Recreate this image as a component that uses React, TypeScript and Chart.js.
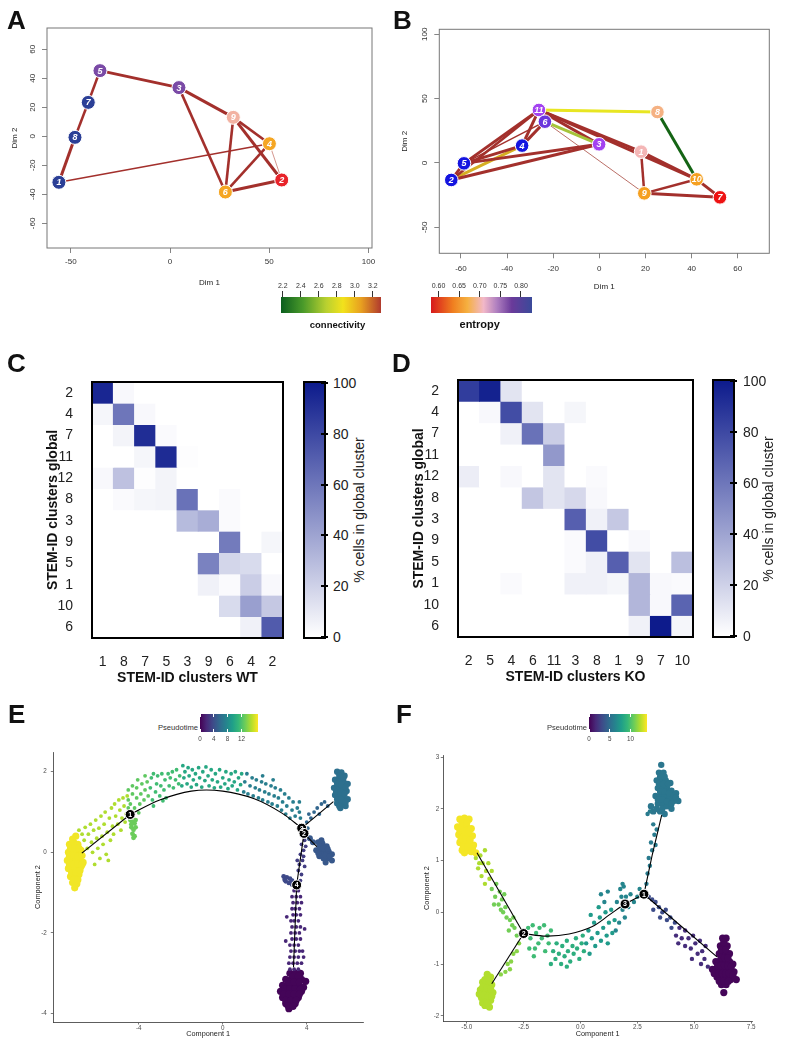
import React, { useEffect, useRef } from "react";
import { Chart, registerables } from "chart.js";
Chart.register(...registerables);

const SANS = "'Liberation Sans', Arial, Helvetica, sans-serif";

// ================= Panel A (STEM-ID network WT) =================
const nodeLabelsA = ["1", "8", "7", "5", "3", "9", "4", "2", "6"];
const nodeXA = [-56.0, -47.9, -41.2, -35.3, 4.5, 31.9, 50.1, 56.3, 27.9];
const nodeYA = [-31.7, -0.7, 23.4, 45.3, 33.6, 13.1, -5.1, -30.1, -38.4];
const nodeColorA = ["#2b3f96", "#2b3f96", "#2b3f96", "#7a4aa6", "#7a4aa6", "#f2b2a2", "#f5a623", "#e8232a", "#f5a623"];
const edgesA = [["1", "8"], ["8", "7"], ["7", "5"], ["5", "3"], ["3", "9"], ["3", "6"], ["9", "6"], ["9", "4"], ["9", "2"], ["4", "6"], ["6", "2"], ["1", "4"], ["4", "2"]];
const edgeWidthA = [3, 2.6, 2.6, 3, 3, 2.6, 2.6, 2.6, 3, 2.6, 3, 1.6, 0.7];
const edgeColorA = ["#a3302c", "#a3302c", "#a3302c", "#a3302c", "#a3302c", "#a3302c", "#a3302c", "#a3302c", "#a3302c", "#a3302c", "#a3302c", "#a3302c", "#c26a5e"];
const xTicksA = [-50, 0, 50, 100];
const yTicksA = [-60, -40, -20, 0, 20, 40, 60];

// ================= Panel B (STEM-ID network KO) =================
const nodeLabelsB = ["11", "6", "4", "5", "2", "3", "1", "8", "10", "9", "7"];
const nodeXB = [-26.2, -23.6, -33.5, -58.7, -64.2, -0.1, 18.1, 25.2, 42.2, 19.5, 52.3];
const nodeYB = [41.2, 32.1, 13.5, -0.3, -13.2, 14.5, 8.8, 39.6, -12.7, -23.6, -26.7];
const nodeColorB = ["#a342f0", "#6b36dc", "#1414e0", "#1414e0", "#1414e0", "#a342f0", "#f4b6b6", "#f5b182", "#f5a020", "#f5a020", "#ee1212"];
const edgesB = [["11", "8"], ["8", "10"], ["11", "5"], ["11", "2"], ["11", "4"], ["6", "4"], ["6", "5"], ["4", "5"], ["5", "3"], ["2", "3"], ["2", "5"], ["2", "4"], ["6", "3"], ["11", "3"], ["11", "1"], ["11", "10"], ["1", "10"], ["1", "9"], ["9", "10"], ["9", "7"], ["10", "7"], ["6", "9"]];
const edgeWidthB = [3, 3, 3, 2.6, 3, 3, 1.4, 3, 3, 3, 3, 3, 3, 3, 3, 3, 3, 2.5, 2.5, 3, 3, 0.8];
const edgeColorB = ["#e8e622", "#146414", "#a3302c", "#a3302c", "#a3302c", "#a3302c", "#a3302c", "#a3302c", "#a3302c", "#a3302c", "#a3302c", "#d6ae22", "#a6c43a", "#a3302c", "#a3302c", "#a3302c", "#a3302c", "#a3302c", "#a3302c", "#a3302c", "#a3302c", "#a84a40"];
const xTicksB = [-60, -40, -20, 0, 20, 40, 60];
const yTicksB = [-50, 0, 50, 100];

// colour keys under A / B
const connTicks = [2.2, 2.4, 2.6, 2.8, 3.0, 3.2];
const entropyTicks = [0.6, 0.65, 0.7, 0.75, 0.8];

// ================= Panels C / D (heatmaps) =================
const rowsGlobal = ["2", "4", "7", "11", "12", "8", "3", "9", "5", "1", "10", "6"];
const colsWT = ["1", "8", "7", "5", "3", "9", "6", "4", "2"];
const heatWT = [
  [95, 3, 0, 0, 0, 0, 0, 0, 0],
  [4, 60, 3, 0, 0, 0, 0, 0, 0],
  [0, 5, 92, 2, 0, 0, 0, 0, 0],
  [0, 0, 4, 93, 1, 0, 0, 0, 0],
  [3, 27, 1, 5, 0, 0, 0, 0, 0],
  [0, 2, 4, 5, 62, 0, 2, 0, 0],
  [0, 0, 0, 0, 30, 36, 2, 0, 0],
  [0, 0, 0, 0, 0, 0, 58, 0, 4],
  [0, 0, 0, 0, 0, 55, 18, 16, 0],
  [0, 0, 0, 0, 0, 6, 2, 22, 3],
  [0, 0, 0, 0, 0, 0, 16, 42, 24],
  [0, 0, 0, 0, 0, 0, 0, 6, 72],
];
const colsKO = ["2", "5", "4", "6", "11", "3", "8", "1", "9", "7", "10"];
const heatKO = [
  [85, 97, 12, 0, 0, 0, 0, 0, 0, 0, 0],
  [0, 3, 78, 12, 0, 4, 0, 0, 0, 0, 0],
  [0, 0, 6, 62, 22, 0, 0, 0, 0, 0, 0],
  [0, 0, 0, 0, 45, 0, 0, 0, 0, 0, 0],
  [8, 0, 3, 0, 12, 0, 2, 0, 0, 0, 0],
  [0, 0, 0, 25, 12, 17, 3, 0, 0, 0, 0],
  [0, 0, 0, 0, 0, 70, 6, 24, 0, 0, 0],
  [0, 0, 0, 0, 0, 2, 78, 0, 3, 0, 0],
  [0, 0, 0, 0, 0, 2, 6, 70, 12, 0, 28],
  [0, 0, 2, 0, 0, 6, 6, 4, 32, 3, 2],
  [0, 0, 0, 0, 0, 0, 0, 0, 32, 3, 68],
  [0, 0, 0, 0, 0, 0, 0, 0, 6, 100, 4],
];
const heatTicks = [0, 20, 40, 60, 80, 100];

// ================= Panel E (pseudotime WT) =================
const eYellowBlob = [[-7.3, 0.2], [-7.1, 0.25], [-6.9, 0.2], [-7.0, 0.4], [-7.35, 0.0], [-7.15, 0.05], [-6.95, 0.0], [-6.75, 0.05], [-7.4, -0.2], [-7.2, -0.15], [-7.0, -0.2], [-6.8, -0.15], [-6.65, -0.25], [-7.35, -0.4], [-7.15, -0.4], [-6.95, -0.4], [-6.75, -0.35], [-7.25, -0.6], [-7.05, -0.6], [-6.85, -0.55], [-7.15, -0.75], [-6.95, -0.78], [-7.05, -0.88], [-7.25, 0.1], [-7.05, 0.12], [-6.85, 0.1], [-7.3, -0.1], [-7.1, -0.08], [-6.9, -0.1], [-6.7, -0.08], [-7.3, -0.3], [-7.1, -0.3], [-6.9, -0.28], [-6.7, -0.3], [-7.2, -0.5], [-7.0, -0.5], [-6.8, -0.45], [-7.1, -0.68], [-6.9, -0.68], [-7.15, 0.33]];
const eLeftArm = [[-6.85, 0.55], [-6.7, 0.45], [-6.6, 0.3], [-6.55, 0.62], [-6.45, 0.1], [-6.4, 0.45], [-6.3, 0.7], [-6.25, 0.25], [-6.2, 0.0], [-6.15, 0.55], [-6.05, 0.8], [-6.0, 0.35], [-5.95, 0.1], [-5.9, 0.6], [-5.85, -0.15], [-5.8, 0.9], [-5.75, 0.4], [-5.7, 0.2], [-5.65, 0.7], [-5.6, 1.0], [-5.5, 0.5], [-5.45, -0.2], [-5.4, 0.85], [-5.35, 0.3], [-5.3, 1.1], [-5.25, 0.65], [-5.2, 0.45], [-5.15, 1.2], [-5.1, 0.9], [-5.0, 0.7], [-4.95, 1.3], [-4.9, 1.05], [-4.85, 0.55], [-4.8, 0.85], [-4.75, 1.35], [-4.7, 1.15], [-4.65, 0.75], [-4.6, 0.95], [-4.55, 1.4], [-5.55, -0.05], [-6.1, -0.3]];
const eGreenBlob = [[-4.4, 0.8], [-4.3, 0.75], [-4.2, 0.72], [-4.35, 0.62], [-4.25, 0.56], [-4.15, 0.62], [-4.3, 0.46], [-4.2, 0.4], [-4.35, 0.7], [-4.15, 0.8], [-4.25, 0.36]];
const eArc1 = [[-4.5, 1.1], [-4.5, 1.3], [-4.5, 1.55], [-4.4, 1.2], [-4.3, 1.45], [-4.3, 1.65], [-4.2, 1.1], [-4.1, 1.35], [-4.1, 1.6], [-4.05, 1.8], [-3.95, 1.2], [-3.9, 1.45], [-3.85, 1.7], [-3.75, 1.3], [-3.7, 1.55], [-3.7, 1.9], [-3.6, 1.75], [-3.55, 1.4], [-4.0, 0.98]];
const eArc1b = [[-3.45, 1.6], [-3.4, 1.85], [-3.35, 1.3], [-3.3, 1.95], [-3.2, 1.5], [-3.15, 1.7], [-3.1, 1.9], [-3.0, 1.4], [-2.95, 1.65], [-2.9, 1.95], [-2.8, 1.55], [-2.75, 1.8], [-2.7, 1.35], [-2.6, 1.95], [-2.55, 1.65], [-2.5, 1.85], [-2.4, 2.0], [-2.35, 1.6], [-2.25, 1.8], [-2.2, 2.05], [-2.1, 1.7], [-2.05, 1.9], [-3.3, 1.15], [-2.85, 1.28]];
const eArc2 = [[-1.95, 1.65], [-1.9, 2.15], [-1.85, 1.85], [-1.8, 2.0], [-1.7, 1.7], [-1.65, 2.1], [-1.6, 1.9], [-1.5, 1.62], [-1.45, 2.05], [-1.4, 1.8], [-1.3, 1.95], [-1.25, 1.68], [-1.15, 2.1], [-1.1, 1.85], [-1.0, 1.62], [-0.95, 2.0], [-0.85, 1.78], [-0.8, 2.12], [-0.7, 1.9], [-0.65, 1.65], [-0.55, 2.05], [-0.5, 1.8], [-0.4, 1.6], [-0.35, 1.95], [-0.25, 1.75], [-0.15, 2.05], [-0.1, 1.62], [0.0, 1.85], [0.1, 1.7], [0.15, 2.0], [0.25, 1.58], [0.3, 1.8], [0.4, 1.95], [0.45, 1.65], [0.55, 1.75], [0.6, 2.0], [0.7, 1.55], [0.75, 1.85], [0.85, 1.68], [0.9, 1.95]];
const eArc3 = [[1.0, 1.5], [1.05, 1.75], [1.15, 1.95], [1.2, 1.45], [1.3, 1.65], [1.4, 1.85], [1.45, 1.4], [1.55, 1.6], [1.6, 1.8], [1.7, 1.35], [1.75, 1.55], [1.85, 1.75], [1.9, 1.3], [2.0, 1.5], [2.05, 1.7], [2.15, 1.25], [2.2, 1.45], [2.3, 1.65], [2.35, 1.2], [2.45, 1.4], [2.5, 1.6], [2.6, 1.15], [2.65, 1.35], [2.75, 1.55], [2.8, 1.05], [2.85, 1.25], [2.95, 1.45], [3.0, 0.95], [3.05, 1.15], [3.15, 1.35], [3.2, 0.85], [3.3, 1.05], [3.35, 1.25], [3.45, 0.9], [3.55, 1.1], [3.65, 1.0], [3.65, 1.25], [3.7, 0.85], [2.4, 1.8], [1.9, 1.9]];
const eToTopRight = [[4.0, 0.75], [4.1, 0.95], [4.2, 0.85], [4.35, 1.0], [4.5, 1.1], [4.6, 0.95], [4.7, 1.2], [4.85, 1.25], [5.0, 1.15], [4.05, 0.6]];
const eTopRightBlob = [[5.45, 2.0], [5.65, 1.98], [5.8, 1.9], [5.35, 1.8], [5.55, 1.8], [5.75, 1.75], [5.95, 1.7], [5.3, 1.6], [5.5, 1.6], [5.7, 1.58], [5.9, 1.52], [5.35, 1.42], [5.55, 1.4], [5.75, 1.38], [5.95, 1.32], [5.45, 1.22], [5.65, 1.2], [5.85, 1.15], [5.6, 1.1], [5.55, 1.9], [5.75, 1.85], [5.45, 1.7], [5.65, 1.68], [5.85, 1.62], [5.4, 1.5], [5.6, 1.5], [5.8, 1.45], [5.45, 1.32], [5.65, 1.3], [5.85, 1.25], [5.55, 1.15]];
const eRightBlob = [[4.55, 0.25], [4.75, 0.22], [4.95, 0.15], [4.45, 0.05], [4.65, 0.05], [4.85, 0.0], [5.05, 0.02], [5.2, -0.05], [4.6, -0.1], [4.8, -0.15], [5.0, -0.15], [5.2, -0.2], [4.9, -0.25], [4.7, 0.3], [4.15, 0.35], [4.3, 0.25], [4.6, 0.15], [4.8, 0.1], [5.0, 0.08], [4.7, -0.05], [4.9, -0.08], [5.1, -0.1], [4.55, -0.02]];
const eStripUpper = [[3.9, 0.3], [3.75, 0.2], [3.85, 0.05], [3.7, -0.05], [3.8, -0.2], [3.65, -0.3], [3.9, -0.35], [3.6, -0.45], [3.75, -0.55], [3.7, -0.7], [3.85, -0.1], [3.95, 0.15], [3.8, 0.4], [3.55, -0.2]];
const eSmallBlob = [[2.9, -0.6], [3.05, -0.62], [3.2, -0.65], [3.3, -0.7], [3.0, -0.72], [3.15, -0.76], [3.3, -0.8], [2.95, -0.68]];
const eStripMid = [[3.4, -0.95], [3.6, -0.95], [3.3, -1.1], [3.5, -1.1], [3.7, -1.1], [3.35, -1.25], [3.55, -1.25], [3.75, -1.25], [3.3, -1.4], [3.45, -1.4], [3.65, -1.4], [3.35, -1.55], [3.5, -1.55], [3.7, -1.55], [3.25, -1.7], [3.4, -1.7], [3.6, -1.7], [3.3, -1.85], [3.5, -1.85], [3.7, -1.85], [3.25, -2.0], [3.45, -2.0], [3.65, -2.0], [3.3, -2.15], [3.5, -2.15], [3.7, -2.15], [3.2, -2.3], [3.4, -2.3], [3.6, -2.3], [3.25, -2.45], [3.45, -2.45], [3.65, -2.45], [3.8, -2.45], [3.2, -2.6], [3.4, -2.6], [3.6, -2.6], [3.15, -2.75], [3.35, -2.75], [3.55, -2.75], [3.75, -2.75], [3.2, -2.9], [3.4, -2.9], [3.6, -2.9], [3.0, -2.2], [3.05, -1.6], [3.9, -1.9], [3.85, -2.6]];
const eBottomBlob = [[3.2, -3.0], [3.45, -3.0], [3.7, -3.0], [3.0, -3.15], [3.25, -3.15], [3.5, -3.15], [3.75, -3.15], [3.95, -3.2], [2.85, -3.3], [3.1, -3.3], [3.35, -3.3], [3.6, -3.3], [3.85, -3.35], [2.75, -3.45], [3.0, -3.45], [3.25, -3.45], [3.5, -3.45], [3.75, -3.45], [2.85, -3.6], [3.1, -3.6], [3.35, -3.6], [3.6, -3.6], [3.0, -3.75], [3.25, -3.75], [3.45, -3.75], [3.15, -3.88], [3.35, -3.08], [3.6, -3.08], [3.15, -3.22], [3.4, -3.22], [3.65, -3.22], [2.95, -3.38], [3.2, -3.38], [3.45, -3.38], [3.7, -3.4], [2.9, -3.52], [3.15, -3.52], [3.4, -3.52], [3.65, -3.52], [3.0, -3.67], [3.25, -3.67], [3.5, -3.67], [3.1, -3.8], [3.35, -3.82]];
const pathE1 = [[-6.71, -0.02], [-4.41, 0.94]];
const pathE2 = [[-4.41, 0.94], [-3.0, 1.3], [-1.5, 1.52], [0.0, 1.52], [1.5, 1.33], [2.8, 0.98], [3.76, 0.6]];
const pathE3 = [[3.76, 0.6], [5.27, 1.26]];
const pathE4 = [[3.87, 0.47], [4.48, 0.14]];
const pathE5 = [[3.87, 0.47], [3.52, -0.81], [3.37, -2.85]];
const branchLabelsE = ["1", "3", "2", "4"];
const branchXE = [-4.41, 3.76, 3.87, 3.52];
const branchYE = [0.94, 0.6, 0.47, -0.81];
const xTicksE = [-4, 0, 4];
const yTicksE = [-4, -2, 0, 2];
const legendTicksE = [0, 4, 8, 12];

// ================= Panel F (pseudotime KO) =================
const fYellowBlob = [[-5.3, 1.8], [-5.1, 1.82], [-4.9, 1.8], [-5.4, 1.65], [-5.2, 1.65], [-5.0, 1.65], [-4.8, 1.62], [-5.35, 1.5], [-5.15, 1.5], [-4.95, 1.5], [-4.75, 1.48], [-5.3, 1.35], [-5.1, 1.35], [-4.9, 1.33], [-4.7, 1.3], [-5.2, 1.2], [-5.0, 1.2], [-4.8, 1.17], [-4.6, 1.15], [-5.2, 1.73], [-5.0, 1.73], [-5.3, 1.58], [-5.1, 1.58], [-4.9, 1.56], [-5.25, 1.42], [-5.05, 1.42], [-4.85, 1.4], [-5.15, 1.27], [-4.95, 1.27], [-4.75, 1.23], [-5.1, 1.15]];
const fLeftArmUpper = [[-4.6, 1.05], [-4.4, 1.1], [-4.3, 0.95], [-4.5, 0.85], [-4.2, 1.2], [-4.15, 0.8], [-4.35, 0.7], [-4.05, 0.95], [-4.0, 0.65], [-4.2, 0.55], [-3.9, 0.8], [-4.45, 0.95]];
const fLeftArmLower = [[-3.9, 0.45], [-3.7, 0.55], [-3.75, 0.3], [-3.55, 0.4], [-3.6, 0.15], [-3.45, 0.25], [-3.4, 0.0], [-3.3, 0.1], [-3.25, -0.1], [-3.5, 0.05], [-3.1, -0.15], [-3.0, -0.25], [-2.9, -0.3], [-3.15, -0.35], [-2.8, -0.45], [-3.8, 0.15], [-3.35, 0.35], [-2.95, -0.1]];
const fBottomLeftArm = [[-2.7, -0.6], [-2.8, -0.75], [-2.95, -0.8], [-3.05, -0.95], [-3.2, -1.0], [-3.3, -1.15], [-3.1, -1.1], [-3.5, -1.2]];
const fBottomLeftBlob = [[-4.1, -1.2], [-3.95, -1.25], [-4.3, -1.35], [-4.1, -1.38], [-3.9, -1.4], [-4.4, -1.5], [-4.2, -1.52], [-4.0, -1.55], [-3.85, -1.55], [-4.35, -1.65], [-4.15, -1.68], [-3.95, -1.7], [-4.2, -1.8], [-4.0, -1.83], [-4.45, -1.58], [-4.2, -1.3], [-4.0, -1.32], [-4.3, -1.45], [-4.1, -1.46], [-3.95, -1.48], [-4.25, -1.6], [-4.05, -1.62], [-4.3, -1.75], [-4.1, -1.75], [-3.9, -1.62]];
const fMid1 = [[-2.3, -0.3], [-2.2, -0.5], [-2.1, -0.25], [-2.0, -0.7], [-1.95, -0.4], [-1.85, -0.6], [-1.8, -0.3], [-1.7, -0.5], [-1.6, -0.25], [-1.55, -0.75], [-1.45, -0.45], [-1.4, -0.6], [-1.3, -0.35], [-2.25, -0.7], [-2.05, -0.85]];
const fMid2 = [[-1.2, -0.75], [-1.1, -0.9], [-1.05, -0.6], [-0.95, -0.8], [-0.85, -1.0], [-0.8, -0.65], [-0.7, -0.85], [-0.6, -0.55], [-0.55, -0.75], [-0.45, -0.95], [-0.35, -0.65], [-0.3, -0.8], [-0.2, -0.5], [-0.15, -0.7], [-0.05, -0.9], [0.05, -0.6], [0.15, -0.75], [-1.3, -1.0], [-0.6, -1.05], [0.1, -0.45]];
const fMid3 = [[0.25, -0.6], [0.35, -0.35], [0.4, -0.8], [0.5, -0.5], [0.6, -0.2], [0.65, -0.65], [0.75, -0.4], [0.85, -0.1], [0.9, -0.55], [1.0, -0.3], [1.1, 0.0], [1.15, -0.45], [1.25, -0.2], [1.35, 0.05], [1.4, -0.4], [1.5, -0.15], [0.45, -0.05], [1.2, -0.6], [0.8, 0.1]];
const fMid4 = [[0.9, 0.35], [1.05, 0.2], [1.2, 0.4], [1.6, 0.2], [1.75, 0.45], [1.8, 0.3], [1.85, 0.05], [1.9, 0.5], [2.0, 0.3], [2.1, 0.1], [2.2, 0.35], [2.35, 0.2], [2.5, 0.3], [1.95, -0.1], [1.7, -0.2], [1.55, -0.35], [2.6, 0.45], [1.85, 0.55]];
const fTopArm = [[2.9, 0.55], [2.95, 0.75], [3.05, 0.9], [3.0, 1.05], [3.15, 1.2], [3.1, 1.35], [3.25, 1.5], [3.2, 1.7], [3.35, 1.6], [2.95, 1.9], [3.05, 1.95], [3.3, 1.3]];
const fTopBlob = [[3.55, 2.85], [3.45, 2.7], [3.65, 2.7], [3.35, 2.55], [3.55, 2.55], [3.75, 2.55], [3.95, 2.5], [3.4, 2.4], [3.6, 2.4], [3.8, 2.4], [4.0, 2.35], [4.2, 2.3], [3.3, 2.25], [3.5, 2.25], [3.7, 2.25], [3.9, 2.2], [4.1, 2.15], [4.3, 2.15], [3.4, 2.1], [3.6, 2.1], [3.8, 2.05], [4.0, 2.0], [3.2, 1.95], [3.5, 1.95], [3.7, 1.9], [3.1, 2.05], [3.5, 2.62], [3.7, 2.62], [3.45, 2.48], [3.65, 2.48], [3.85, 2.48], [3.5, 2.33], [3.7, 2.33], [3.9, 2.3], [4.1, 2.25], [3.4, 2.18], [3.6, 2.18], [3.8, 2.14], [4.0, 2.1], [4.2, 2.22], [3.6, 2.0], [3.35, 2.0]];
const fRightArmUpper = [[3.0, 0.3], [3.15, 0.25], [3.3, 0.2], [3.2, 0.05], [3.45, 0.1], [3.6, 0.0], [3.5, -0.1], [3.75, 0.05], [3.8, -0.15], [3.95, -0.1], [4.0, -0.3], [4.15, -0.2]];
const fRightArmLower = [[4.2, -0.45], [4.35, -0.3], [4.45, -0.5], [4.6, -0.35], [4.6, -0.65], [4.75, -0.5], [4.85, -0.7], [4.95, -0.45], [5.05, -0.6], [5.15, -0.8], [5.25, -0.55], [5.35, -0.75], [5.45, -0.9], [5.5, -0.65], [4.3, -0.6], [4.9, -0.9], [5.6, -1.05], [5.3, -1.0]];
const fRightBlob = [[6.25, -0.5], [6.4, -0.5], [6.15, -0.65], [6.3, -0.65], [6.45, -0.65], [6.1, -0.8], [6.25, -0.8], [6.4, -0.8], [6.55, -0.8], [5.95, -0.95], [6.1, -0.95], [6.25, -0.95], [6.4, -0.95], [6.55, -0.95], [6.7, -1.0], [5.8, -1.1], [5.95, -1.1], [6.1, -1.1], [6.25, -1.1], [6.4, -1.1], [6.55, -1.1], [6.75, -1.15], [6.0, -1.25], [6.15, -1.25], [6.3, -1.25], [6.45, -1.25], [6.6, -1.3], [6.85, -1.3], [6.2, -1.4], [6.4, -1.4], [6.3, -1.55], [6.3, -0.58], [6.2, -0.72], [6.38, -0.72], [6.18, -0.88], [6.33, -0.88], [6.48, -0.88], [6.03, -1.03], [6.18, -1.03], [6.33, -1.03], [6.48, -1.03], [6.63, -1.05], [5.88, -1.18], [6.08, -1.18], [6.23, -1.18], [6.38, -1.18], [6.53, -1.18], [6.7, -1.22], [6.1, -1.33], [6.3, -1.33], [6.5, -1.33]];
const pathF1 = [[-4.55, 1.15], [-2.5, -0.41]];
const pathF2 = [[-2.5, -0.41], [-3.9, -1.38]];
const pathF3 = [[-2.5, -0.41], [-1.5, -0.46], [-0.5, -0.42], [0.5, -0.28], [1.3, -0.04], [1.96, 0.16], [2.79, 0.35]];
const pathF4 = [[2.79, 0.35], [3.15, 1.1], [3.57, 1.88]];
const pathF5 = [[2.79, 0.35], [4.3, -0.22], [6.0, -0.86]];
const branchLabelsF = ["2", "3", "1"];
const branchXF = [-2.5, 1.96, 2.79];
const branchYF = [-0.41, 0.16, 0.35];
const xTicksF = [-5, -2.5, 0, 2.5, 5, 7.5];
const yTicksF = [-2, -1, 0, 1, 2, 3];
const legendTicksF = [0, 5, 10];

// ================= helpers =================
const VIRIDIS = ["#440154", "#482878", "#3e4a89", "#31688e", "#26828e", "#1f9e89", "#35b779", "#6dcd59", "#b4de2c", "#fde725"];
function hexRgb(h: string) {
  return [parseInt(h.slice(1, 3), 16), parseInt(h.slice(3, 5), 16), parseInt(h.slice(5, 7), 16)];
}
function viridis(f: number) {
  const v = Math.max(0, Math.min(1, f));
  const n = VIRIDIS.length - 1;
  const i = Math.min(n - 1, Math.floor(v * n));
  const u = v * n - i;
  const a = hexRgb(VIRIDIS[i]);
  const b = hexRgb(VIRIDIS[i + 1]);
  const c = a.map((x, k) => Math.round(x + (b[k] - x) * u));
  return `rgb(${c[0]},${c[1]},${c[2]})`;
}
function heatColor(v: number) {
  const f = Math.max(0, Math.min(100, v)) / 100;
  const lo = [255, 255, 255];
  const hi = [13, 27, 140];
  const c = lo.map((x, k) => Math.round(x + (hi[k] - x) * f));
  return `rgb(${c[0]},${c[1]},${c[2]})`;
}

const baseOptions = () => ({
  responsive: false,
  maintainAspectRatio: false,
  animation: false,
  devicePixelRatio: 1,
  events: [],
  plugins: { legend: { display: false }, tooltip: { enabled: false } },
});

function framePlugin(color: string, width: number) {
  return {
    id: "frame",
    afterDraw(chart: any) {
      const { ctx, chartArea: a } = chart;
      ctx.save();
      ctx.strokeStyle = color;
      ctx.lineWidth = width;
      ctx.strokeRect(a.left, a.top, a.right - a.left, a.bottom - a.top);
      ctx.restore();
    },
  };
}

const nodeLabelPlugin = {
  id: "nodeLabels",
  afterDatasetsDraw(chart: any) {
    const ctx = chart.ctx;
    chart.data.datasets.forEach((ds: any, i: number) => {
      if (!ds.nodeLabels) return;
      const meta = chart.getDatasetMeta(i);
      ctx.save();
      ctx.font = ds.nodeFont;
      ctx.fillStyle = "#ffffff";
      ctx.textAlign = "center";
      ctx.textBaseline = "middle";
      meta.data.forEach((el: any, j: number) => ctx.fillText(ds.nodeLabels[j], el.x, el.y + 0.5));
      ctx.restore();
    });
  },
};

function fixedTicks(values: number[]) {
  return (s: any) => {
    s.ticks = values.map((v) => ({ value: v }));
  };
}

// ---------- network (A, B) ----------
function networkConfig(n: any) {
  const idx = (l: string) => n.labels.indexOf(l);
  const edgeSets = n.edges.map((e: string[], i: number) => ({
    type: "line",
    data: [
      { x: n.xs[idx(e[0])], y: n.ys[idx(e[0])] },
      { x: n.xs[idx(e[1])], y: n.ys[idx(e[1])] },
    ],
    borderColor: n.edgeColors[i],
    borderWidth: n.edgeWidths[i],
    pointRadius: 0,
    tension: 0,
    fill: false,
    order: 2,
  }));
  const nodeSet = {
    type: "scatter",
    data: n.labels.map((_: string, i: number) => ({ x: n.xs[i], y: n.ys[i] })),
    nodeLabels: n.labels,
    nodeFont: `italic bold 9px ${SANS}`,
    backgroundColor: n.colors,
    borderColor: "#ffffff",
    borderWidth: 1,
    pointRadius: n.r,
    order: 1,
  };
  const tickFont = { family: SANS, size: 8 };
  const titleFont = { family: SANS, size: 8, lineHeight: 1.2 };
  const grid = { drawOnChartArea: false, drawTicks: true, tickLength: 5, color: "#666", lineWidth: 0.8 };
  return {
    type: "scatter",
    data: { datasets: [nodeSet, ...edgeSets] },
    options: {
      ...baseOptions(),
      layout: { padding: n.padding },
      scales: {
        x: {
          type: "linear", min: n.xMin, max: n.xMax,
          afterFit: (s: any) => { s.height = n.xAxisH; },
          afterBuildTicks: fixedTicks(n.xTicks),
          grid, border: { display: false },
          ticks: { font: tickFont, color: "#333", padding: n.xPad, maxRotation: 0, autoSkip: false },
          title: { display: true, text: "Dim 1", font: titleFont, color: "#222", padding: { top: 0, bottom: n.xTitlePad } },
        },
        y: {
          type: "linear", min: n.yMin, max: n.yMax,
          afterFit: (s: any) => { s.width = n.yAxisW; },
          afterBuildTicks: fixedTicks(n.yTicks),
          grid, border: { display: false },
          ticks: { font: tickFont, color: "#333", padding: n.yPad, minRotation: 90, maxRotation: 90, crossAlign: "center", autoSkip: false },
          title: { display: true, text: "Dim 2", font: titleFont, color: "#222", padding: { top: n.yTitlePad, bottom: 0 } },
        },
      },
    },
    plugins: [framePlugin("#777", 1), nodeLabelPlugin],
  };
}

// ---------- heatmap (C, D) ----------
function heatConfig(h: any) {
  return {
    type: "bar",
    data: {
      labels: h.cols,
      datasets: h.rows.map((r: string, i: number) => ({
        label: r,
        data: h.cols.map(() => 1),
        backgroundColor: h.values[i].map(heatColor),
        borderWidth: 0,
        barPercentage: 1,
        categoryPercentage: 1,
      })),
    },
    options: {
      ...baseOptions(),
      layout: { padding: h.padding },
      scales: {
        x: {
          stacked: true,
          afterFit: (s: any) => { s.height = h.xAxisH; },
          grid: { display: false }, border: { display: false },
          ticks: { font: { family: SANS, size: 14 }, color: "#222", padding: h.xPad, maxRotation: 0, autoSkip: false },
          title: { display: true, text: h.xTitle, font: { family: SANS, size: 14, weight: "bold", lineHeight: 1.2 }, color: "#111", padding: { top: 0, bottom: h.xTitlePad } },
        },
        y: {
          stacked: true, min: 0, max: h.rows.length, reverse: true,
          afterFit: (s: any) => { s.width = h.yAxisW; },
          afterBuildTicks: fixedTicks(h.rows.map((_: string, i: number) => i + 0.5)),
          grid: { display: false }, border: { display: false },
          ticks: { font: { family: SANS, size: 14 }, color: "#222", padding: h.yPad, autoSkip: false, callback: (v: number) => h.rows[Math.floor(v)] },
          title: { display: true, text: "STEM-ID clusters global", font: { family: SANS, size: 14, weight: "bold", lineHeight: 1.2 }, color: "#111", padding: { top: h.yTitlePad, bottom: 0 } },
        },
      },
    },
    plugins: [framePlugin("#000", 2)],
  };
}

// ---------- pseudotime scatter (E, F) ----------
function trajConfig(p: any) {
  const dotSets = p.groups.map((g: any) => ({
    type: "scatter",
    data: g.pts.map((q: number[]) => ({ x: q[0], y: q[1] })),
    backgroundColor: viridis(g.t / p.tMax),
    borderWidth: 0,
    pointRadius: g.r,
    order: 3,
  }));
  const lineSets = p.paths.map((path: number[][]) => ({
    type: "line",
    data: path.map((q) => ({ x: q[0], y: q[1] })),
    borderColor: "#000",
    borderWidth: 1.1,
    pointRadius: 0,
    tension: path.length > 3 ? 0.35 : 0,
    fill: false,
    order: 2,
  }));
  const nodeSet = {
    type: "scatter",
    data: p.nodeX.map((x: number, i: number) => ({ x, y: p.nodeY[i] })),
    nodeLabels: p.nodeLabels,
    nodeFont: `bold 7px ${SANS}`,
    backgroundColor: "#000",
    borderColor: "#fff",
    borderWidth: 1,
    pointRadius: 5,
    order: 1,
  };
  const tickFont = { family: SANS, size: 6.3 };
  const titleFont = { family: SANS, size: 7.3, lineHeight: 1.2 };
  const grid = { drawOnChartArea: false, drawTicks: true, tickLength: 2.5, color: "#444", lineWidth: 0.7 };
  const border = { display: true, color: "#333", width: 0.8 };
  return {
    type: "scatter",
    data: { datasets: [nodeSet, ...lineSets, ...dotSets] },
    options: {
      ...baseOptions(),
      layout: { padding: p.padding },
      scales: {
        x: {
          type: "linear", min: p.xMin, max: p.xMax,
          afterFit: (s: any) => { s.height = p.xAxisH; },
          afterBuildTicks: fixedTicks(p.xTicks),
          grid, border,
          ticks: { font: tickFont, color: "#4d4d4d", padding: p.xPad, maxRotation: 0, autoSkip: false, callback: p.xFmt },
          title: { display: true, text: "Component 1", font: titleFont, color: "#222", padding: { top: 0, bottom: p.xTitlePad } },
        },
        y: {
          type: "linear", min: p.yMin, max: p.yMax,
          afterFit: (s: any) => { s.width = p.yAxisW; },
          afterBuildTicks: fixedTicks(p.yTicks),
          grid, border,
          ticks: { font: tickFont, color: "#4d4d4d", padding: p.yPad, autoSkip: false },
          title: { display: true, text: "Component 2", font: titleFont, color: "#222", padding: { top: p.yTitlePad, bottom: 0 } },
        },
      },
    },
    plugins: [nodeLabelPlugin],
  };
}

function ChartBox(props: { left: number; top: number; width: number; height: number; build: () => any }) {
  const ref = useRef<HTMLCanvasElement | null>(null);
  useEffect(() => {
    const chart = new Chart(ref.current as HTMLCanvasElement, props.build());
    return () => chart.destroy();
  }, []);
  return (
    <canvas
      ref={ref}
      width={props.width}
      height={props.height}
      style={{ position: "absolute", left: props.left, top: props.top, width: props.width, height: props.height }}
    />
  );
}

const abs = (left: number, top: number, extra: any = {}) => ({ position: "absolute" as const, left, top, ...extra });

function Letter({ ch, left, top }: { ch: string; left: number; top: number }) {
  return <div style={abs(left, top, { font: `bold 26px ${SANS}`, lineHeight: "26px", color: "#111" })}>{ch}</div>;
}

function KeyBar(props: { left: number; top: number; width: number; gradient: string; ticks: number[]; min: number; max: number; fmt: (v: number) => string; title: string; titleX: number; titleSize: number }) {
  const pos = (v: number) => props.left + ((v - props.min) / (props.max - props.min)) * props.width;
  return (
    <>
      <div style={abs(props.left, props.top, { width: props.width, height: 16, background: props.gradient })} />
      {props.ticks.map((v) => (
        <React.Fragment key={v}>
          <div style={abs(pos(v) - 0.5, props.top - 6, { width: 1, height: 6, background: "#333" })} />
          <div style={abs(pos(v), props.top - 12.5, { transform: "translate(-50%,-50%)", font: `7px ${SANS}`, color: "#333", whiteSpace: "nowrap" })}>{props.fmt(v)}</div>
        </React.Fragment>
      ))}
      <div style={abs(props.titleX, props.top + 27, { transform: "translate(-50%,-50%)", font: `bold ${props.titleSize}px ${SANS}`, color: "#111", whiteSpace: "nowrap" })}>{props.title}</div>
    </>
  );
}

function HeatKey(props: { left: number; top: number; height: number; labelLeft: number; titleX: number }) {
  const inner = props.height - 4;
  const y = (v: number) => props.top + 2 + inner - (v / 100) * inner;
  return (
    <>
      <div style={abs(props.left, props.top, { width: 23, height: props.height, boxSizing: "border-box", border: "2px solid #000", background: "linear-gradient(to top, #ffffff, #0d1b8c)" })} />
      {heatTicks.map((v) => (
        <React.Fragment key={v}>
          <div style={abs(props.left + 18, y(v) - 1, { width: 7, height: 2, background: "#000" })} />
          <div style={abs(props.labelLeft, y(v), { transform: "translateY(-50%)", font: `14px ${SANS}`, color: "#222", whiteSpace: "nowrap" })}>{v}</div>
        </React.Fragment>
      ))}
      <div style={abs(props.titleX, props.top + props.height / 2, { transform: "translate(-50%,-50%) rotate(-90deg)", font: `14px ${SANS}`, color: "#222", whiteSpace: "nowrap" })}>% cells in global cluster</div>
    </>
  );
}

function PseudoKey(props: { barLeft: number; ticks: number[]; tMax: number }) {
  const w = 58;
  const pos = (v: number) => props.barLeft + (v / props.tMax) * w;
  return (
    <>
      <div style={abs(props.barLeft - 2, 727, { transform: "translate(-100%,-50%)", font: `7.6px ${SANS}`, color: "#333", whiteSpace: "nowrap" })}>Pseudotime</div>
      <div style={abs(props.barLeft, 714, { width: w, height: 18, background: `linear-gradient(to right, ${VIRIDIS.join(",")})` })} />
      {props.ticks.map((v) => (
        <React.Fragment key={v}>
          <div style={abs(pos(v) - 0.4, 714, { width: 0.8, height: 3, background: "#fff" })} />
          <div style={abs(pos(v) - 0.4, 729, { width: 0.8, height: 3, background: "#fff" })} />
          <div style={abs(pos(v), 737.5, { transform: "translate(-50%,-50%)", font: `6.3px ${SANS}`, color: "#444", whiteSpace: "nowrap" })}>{v}</div>
        </React.Fragment>
      ))}
    </>
  );
}

export default function App() {
  const buildA = () =>
    networkConfig({
      labels: nodeLabelsA, xs: nodeXA, ys: nodeYA, colors: nodeColorA, edges: edgesA, edgeWidths: edgeWidthA, edgeColors: edgeColorA,
      xMin: -62, xMax: 101.8, yMin: -77, yMax: 74.7, xTicks: xTicksA, yTicks: yTicksA, r: 7,
      padding: { left: 0, top: 28, right: 18, bottom: 0 }, xAxisH: 52, yAxisW: 47,
      xPad: 4.2, xTitlePad: 12.2, yPad: 3, yTitlePad: 10,
    });
  const buildB = () =>
    networkConfig({
      labels: nodeLabelsB, xs: nodeXB, ys: nodeYB, colors: nodeColorB, edges: edgesB, edgeWidths: edgeWidthB, edgeColors: edgeColorB,
      xMin: -69.4, xMax: 73.7, yMin: -70.2, yMax: 103.9, xTicks: xTicksB, yTicks: yTicksB, r: 6.8,
      padding: { left: 0, top: 29.3, right: 17.7, bottom: 0 }, xAxisH: 46.7, yAxisW: 49.3,
      xPad: 5.9, xTitlePad: 8.2, yPad: 3.1, yTitlePad: 10.2,
    });
  const buildC = () =>
    heatConfig({
      rows: rowsGlobal, cols: colsWT, values: heatWT, xTitle: "STEM-ID clusters WT",
      padding: { left: 0, top: 42, right: 7, bottom: 0 }, xAxisH: 62, yAxisW: 92,
      xPad: 7.6, xTitlePad: 13.6, yPad: 11, yTitlePad: 44.6,
    });
  const buildD = () =>
    heatConfig({
      rows: rowsGlobal, cols: colsKO, values: heatKO, xTitle: "STEM-ID clusters KO",
      padding: { left: 0, top: 40, right: 94, bottom: 0 }, xAxisH: 63, yAxisW: 68,
      xPad: 7.6, xTitlePad: 14.6, yPad: 11, yTitlePad: 20.6,
    });
  const buildE = () =>
    trajConfig({
      tMax: 16.8,
      groups: [
        { pts: eYellowBlob, t: 16.5, r: 3.6 },
        { pts: eLeftArm, t: 14.8, r: 1.9 },
        { pts: eGreenBlob, t: 13, r: 2.4 },
        { pts: eArc1, t: 12.6, r: 1.9 },
        { pts: eArc1b, t: 11.6, r: 1.9 },
        { pts: eArc2, t: 10, r: 1.9 },
        { pts: eArc3, t: 7.2, r: 1.9 },
        { pts: eToTopRight, t: 5.5, r: 1.9 },
        { pts: eTopRightBlob, t: 6.2, r: 3.2 },
        { pts: eRightBlob, t: 4.6, r: 3 },
        { pts: eStripUpper, t: 3.0, r: 1.9 },
        { pts: eSmallBlob, t: 3.7, r: 2.4 },
        { pts: eStripMid, t: 1.8, r: 1.9 },
        { pts: eBottomBlob, t: 0.2, r: 3.6 },
      ],
      paths: [pathE1, pathE2, pathE3, pathE4, pathE5],
      nodeLabels: branchLabelsE, nodeX: branchXE, nodeY: branchYE,
      xMin: -8.07, xMax: 6.68, yMin: -4.21, yMax: 2.49, xTicks: xTicksE, yTicks: yTicksE,
      xFmt: (v: number) => String(v),
      padding: { left: 0, top: 12, right: 17, bottom: 0 }, xAxisH: 29, yAxisW: 53.3,
      xPad: 0, xTitlePad: 12.3, yPad: 4, yTitlePad: 33.3,
    });
  const buildF = () =>
    trajConfig({
      tMax: 14,
      groups: [
        { pts: fYellowBlob, t: 13.8, r: 3.6 },
        { pts: fLeftArmUpper, t: 12.3, r: 2.2 },
        { pts: fLeftArmLower, t: 11, r: 2.2 },
        { pts: fBottomLeftArm, t: 11.5, r: 2.2 },
        { pts: fBottomLeftBlob, t: 12.4, r: 3.6 },
        { pts: fMid1, t: 9.6, r: 2.2 },
        { pts: fMid2, t: 8.8, r: 2.2 },
        { pts: fMid3, t: 7.6, r: 2.2 },
        { pts: fMid4, t: 6.4, r: 2.2 },
        { pts: fTopArm, t: 5.8, r: 2.2 },
        { pts: fTopBlob, t: 5.5, r: 3.2 },
        { pts: fRightArmUpper, t: 3.2, r: 2.2 },
        { pts: fRightArmLower, t: 1.8, r: 2.2 },
        { pts: fRightBlob, t: 0.2, r: 3.6 },
      ],
      paths: [pathF1, pathF2, pathF3, pathF4, pathF5],
      nodeLabels: branchLabelsF, nodeX: branchXF, nodeY: branchYF,
      xMin: -6.03, xMax: 7.54, yMin: -2.1, yMax: 3.04, xTicks: xTicksF, yTicks: yTicksF,
      xFmt: (v: number) => v.toFixed(1),
      padding: { left: 0, top: 15, right: 35, bottom: 0 }, xAxisH: 30, yAxisW: 53.3,
      xPad: 0.4, xTitlePad: 12.3, yPad: 1.5, yTitlePad: 32.3,
    });

  return (
    <div style={{ position: "absolute", left: 0, top: 0, width: 787, height: 1051, background: "#fff", overflow: "hidden" }}>
      <ChartBox left={0} top={0} width={390} height={300} build={buildA} />
      <ChartBox left={390} top={0} width={397} height={300} build={buildB} />
      <ChartBox left={0} top={340} width={290} height={360} build={buildC} />
      <ChartBox left={390} top={340} width={397} height={360} build={buildD} />
      <ChartBox left={0} top={740} width={380} height={311} build={buildE} />
      <ChartBox left={390} top={740} width={397} height={311} build={buildF} />

      <Letter ch="A" left={7} top={6.6} />
      <Letter ch="B" left={393} top={6.6} />
      <Letter ch="C" left={7} top={349.6} />
      <Letter ch="D" left={392} top={349.6} />
      <Letter ch="E" left={8} top={700.6} />
      <Letter ch="F" left={396} top={700.6} />

      <KeyBar left={281} top={297} width={100} gradient="linear-gradient(to right, #0b5e1e 0%, #4a9a2a 22%, #b8d030 45%, #f2e21c 62%, #e8a020 80%, #b03a2e 100%)"
        ticks={connTicks} min={2.18} max={3.29} fmt={(v) => v.toFixed(1)} title="connectivity" titleX={337.5} titleSize={9.5} />
      <KeyBar left={431} top={297} width={101} gradient="linear-gradient(to right, #d7191c 0%, #f08020 22%, #f5b040 36%, #f2b8c8 52%, #b080c0 65%, #6a3a9a 80%, #3a4a9a 100%)"
        ticks={entropyTicks} min={0.5818} max={0.8267} fmt={(v) => v.toFixed(2)} title="entropy" titleX={479.7} titleSize={11} />

      <HeatKey left={303} top={381} height={258} labelLeft={333} titleX={359} />
      <HeatKey left={712} top={379} height={259} labelLeft={743} titleX={767.5} />

      <PseudoKey barLeft={200} ticks={legendTicksE} tMax={16.8} />
      <PseudoKey barLeft={589} ticks={legendTicksF} tMax={14} />
    </div>
  );
}
